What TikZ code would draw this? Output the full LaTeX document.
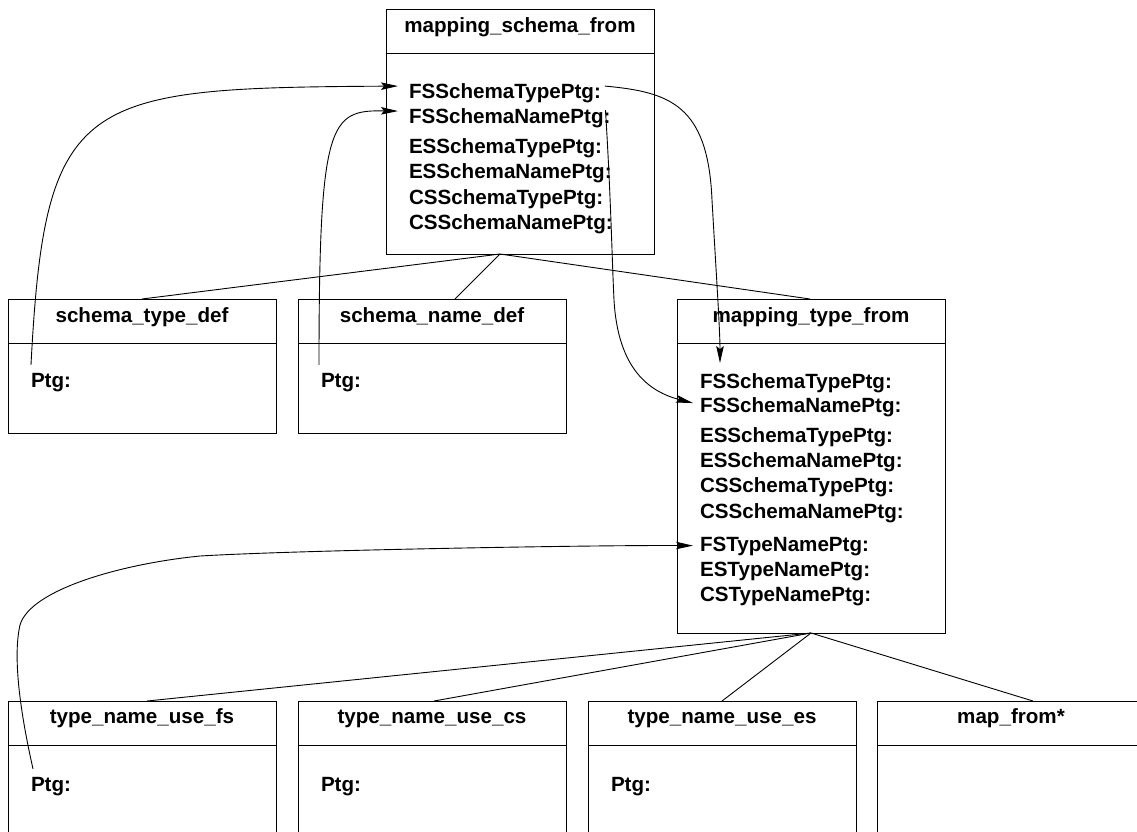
\documentclass[tikz,border=0pt]{standalone}
\usepackage{fontspec}
\setmainfont{Liberation Sans}
\usetikzlibrary{arrows.meta,calc}
\begin{document}
\begin{tikzpicture}[x=1pt,y=-1pt,
  box/.style={draw,line width=1pt,minimum width=268pt,inner sep=0pt,outer sep=0pt,anchor=north west},
  sbox/.style={box,minimum height=134pt},
  lbl/.style={anchor=base west,inner sep=0pt,outer sep=0pt,font=\fontsize{20.6}{24}\selectfont\bfseries},
  hdr/.style={anchor=base,inner sep=0pt,outer sep=0pt,font=\fontsize{20.6}{24}\selectfont\bfseries},
  conn/.style={line width=0.9pt},
  arr/.style={line width=0.9pt,-{Stealth[length=17pt,width=7.5pt,inset=3pt]}}]
\useasboundingbox (0,0) rectangle (1137,831);
% boxes
\node[box,minimum height=245pt] (msf) at (386,9) {};
\node[sbox] (std) at (8,299) {};
\node[sbox] (snd) at (298,299) {};
\node[box,minimum height=334pt] (mtf) at (677,299) {};
\node[sbox,minimum height=150pt] (tfs) at (8,701) {};
\node[sbox,minimum height=150pt] (tcs) at (298,701) {};
\node[sbox,minimum height=150pt] (tes) at (588,701) {};
\node[sbox,minimum height=150pt] (mfr) at (877,701) {};
% header lines
\foreach \b in {msf,std,snd,mtf,tfs,tcs,tes,mfr}
  \draw[line width=1pt] ([yshift=-44pt]\b.north west) -- ([yshift=-44pt]\b.north east);
% headers
\node[hdr] (msfh) at (520,32) {mapping\_schema\_from};
\node[hdr] (stdh) at (142,322) {schema\_type\_def};
\node[hdr] (sndh) at (432,322) {schema\_name\_def};
\node[hdr] (mtfh) at (811,322) {mapping\_type\_from};
\node[hdr] (tfsh) at (142,723) {type\_name\_use\_fs};
\node[hdr] (tcsh) at (432,723) {type\_name\_use\_cs};
\node[hdr] (tesh) at (722,723) {type\_name\_use\_es};
\node[hdr] (mfrh) at (1011,723) {map\_from*};
% msf rows
\node[lbl] (r1) at (409,98) {FSSchemaTypePtg:};
\node[lbl] (r2) at (409,123) {FSSchemaNamePtg:};
\node[lbl] (r3) at (409,153) {ESSchemaTypePtg:};
\node[lbl] (r4) at (409,178) {ESSchemaNamePtg:};
\node[lbl] (r5) at (409,204) {CSSchemaTypePtg:};
\node[lbl] (r6) at (409,229) {CSSchemaNamePtg:};
% mtf rows
\node[lbl] (m1) at (700,388) {FSSchemaTypePtg:};
\node[lbl] (m2) at (700,412) {FSSchemaNamePtg:};
\node[lbl] (m3) at (700,442) {ESSchemaTypePtg:};
\node[lbl] (m4) at (700,467) {ESSchemaNamePtg:};
\node[lbl] (m5) at (700,492) {CSSchemaTypePtg:};
\node[lbl] (m6) at (700,518) {CSSchemaNamePtg:};
\node[lbl] (m7) at (700,551) {FSTypeNamePtg:};
\node[lbl] (m8) at (700,576) {ESTypeNamePtg:};
\node[lbl] (m9) at (700,601) {CSTypeNamePtg:};
% Ptg labels
\node[lbl] (pA) at (31,387) {Ptg:};
\node[lbl] (pB) at (321,387) {Ptg:};
\node[lbl] (pC) at (31,791) {Ptg:};
\node[lbl] (pD) at (321,791) {Ptg:};
\node[lbl] (pE) at (611,791) {Ptg:};
% tree connectors
\coordinate (msfj) at ([xshift=-20pt]msf.south);
\coordinate (mtfj) at (mtf.south);
\draw[conn] (msfj) -- (std.north);
\draw[conn] (msfj) -- ([xshift=23pt]snd.north);
\draw[conn] (msfj) -- ([xshift=-1pt]mtf.north);
\draw[conn] (mtfj) -- ([xshift=5pt]tfs.north);
\draw[conn] (mtfj) -- ([xshift=2pt]tcs.north);
\draw[conn] (mtfj) -- (tes.north);
\draw[conn] (mtfj) -- ([xshift=22pt]mfr.north);
% pointer arrows
\draw[arr] ([xshift=0pt,yshift=8pt]pA.north west) .. controls (45,95) and (80,88) .. ([xshift=-11pt,yshift=-3pt]r1.north west);
\draw[arr] ([xshift=-2pt,yshift=8pt]pB.north west) .. controls (319,120) and (330,110) .. ([xshift=-11pt,yshift=-3pt]r2.north west);
\draw[arr] ([xshift=4pt,yshift=-3pt]r1.north east) .. controls (670,92) and (708,105) .. (712,200) .. controls (716,270) and (720,330) .. ([xshift=20pt,yshift=10pt]m1.north west);
\draw[arr] ([xshift=-5pt,yshift=-2pt]r2.north east) .. controls (611,200) and (612,260) .. (614,300) .. controls (618,370) and (650,392) .. ([xshift=-7pt,yshift=-6pt]m2.north west);
\draw[arr] ([xshift=2pt,yshift=8pt]pC.north west) .. controls (22,720) and (12,660) .. (20,625) .. controls (30,590) and (120,564) .. (200,556) .. controls (300,550) and (600,545) .. ([xshift=-7pt,yshift=-9pt]m7.north west);
\end{tikzpicture}
\end{document}
